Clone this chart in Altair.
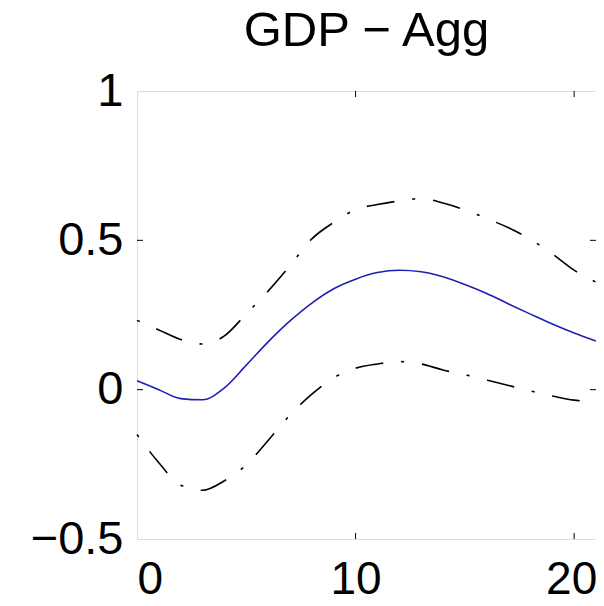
import altair as alt
import pandas as pd

# Horizon (quarters)
horizon = list(range(0, 22))
# Median impulse response
median = [0.03, 0.0, -0.03, -0.034, 0.006, 0.082, 0.16, 0.23, 0.29, 0.338,
          0.37, 0.392, 0.40, 0.395, 0.378, 0.352, 0.322, 0.287, 0.253, 0.22,
          0.19, 0.163]
# Upper confidence band
upper = [0.232, 0.20, 0.168, 0.153, 0.18, 0.254, 0.33, 0.415, 0.505, 0.56,
         0.603, 0.62, 0.632, 0.64, 0.625, 0.602, 0.573, 0.542, 0.503, 0.455,
         0.40, 0.36]
# Lower confidence band
lower = [-0.15, -0.245, -0.32, -0.337, -0.305, -0.252, -0.17, -0.085, -0.015, 0.04,
         0.072, 0.086, 0.094, 0.086, 0.066, 0.05, 0.032, 0.014, -0.004, -0.021,
         -0.035, -0.04]

x_ticks = [0, 10, 20]
y_ticks = [-0.5, 0, 0.5, 1]
x_inner_ticks = [10, 20]
y_inner_ticks = [0, 0.5]

W, H = 459, 448
FONT = "Liberation Sans"

df = pd.DataFrame({"h": horizon, "median": median, "upper": upper, "lower": lower})
long = df.melt(id_vars="h", value_vars=["upper", "lower"], var_name="band", value_name="v")

xscale = alt.Scale(domain=[0, 21], nice=False, zero=False)
yscale = alt.Scale(domain=[-0.5, 1], nice=False, zero=False)

xaxis = alt.Axis(values=x_ticks, title=None, grid=False, domain=False, ticks=False,
                 labelFontSize=46, labelFont=FONT, labelColor="black", labelPadding=18,
                 labelBaseline="top",
                 labelOffset={"condition": {"test": "datum.value == 20", "value": -3}, "value": 0})
yaxis = alt.Axis(values=y_ticks, title=None, grid=False, domain=False, ticks=False,
                 labelFontSize=47, labelFont=FONT, labelColor="black", labelPadding=14,
                 format="~g")

bands = alt.Chart(long).mark_line(
    color="black", strokeWidth=1.6, strokeDash=[3, 18, 28, 18], interpolate="monotone"
).encode(
    x=alt.X("h:Q", scale=xscale, axis=xaxis),
    y=alt.Y("v:Q", scale=yscale, axis=yaxis),
    detail="band:N",
)

mid = alt.Chart(df).mark_line(color="#1f1fb4", strokeWidth=1.6, interpolate="monotone").encode(
    x=alt.X("h:Q", scale=xscale),
    y=alt.Y("median:Q", scale=yscale),
)

xt = pd.DataFrame({"t": x_inner_ticks})
yt = pd.DataFrame({"t": y_inner_ticks})

tick_b = alt.Chart(xt).mark_rule(color="black", strokeWidth=1).encode(
    x=alt.X("t:Q", scale=xscale), y=alt.value(H), y2=alt.value(H - 6))
tick_t = alt.Chart(xt).mark_rule(color="black", strokeWidth=1).encode(
    x=alt.X("t:Q", scale=xscale), y=alt.value(0), y2=alt.value(6))
tick_l = alt.Chart(yt).mark_rule(color="black", strokeWidth=1).encode(
    y=alt.Y("t:Q", scale=yscale), x=alt.value(0), x2=alt.value(6))
tick_r = alt.Chart(yt).mark_rule(color="black", strokeWidth=1).encode(
    y=alt.Y("t:Q", scale=yscale), x=alt.value(W), x2=alt.value(W - 6))

chart = alt.layer(bands, mid, tick_b, tick_t, tick_l, tick_r).properties(
    width=W, height=H,
    title=alt.TitleParams("GDP \u2212 Agg", font=FONT, fontSize=49, fontWeight="normal",
                          color="black", anchor="middle", frame="group", offset=11),
    autosize=alt.AutoSizeParams(type="none"),
    padding={"left": 129, "top": 83, "right": 0, "bottom": 66},
).configure_view(stroke="black", strokeWidth=1.2).configure(background="white")

chart.save("out.html", embed_options={"renderer": "svg", "actions": False})
